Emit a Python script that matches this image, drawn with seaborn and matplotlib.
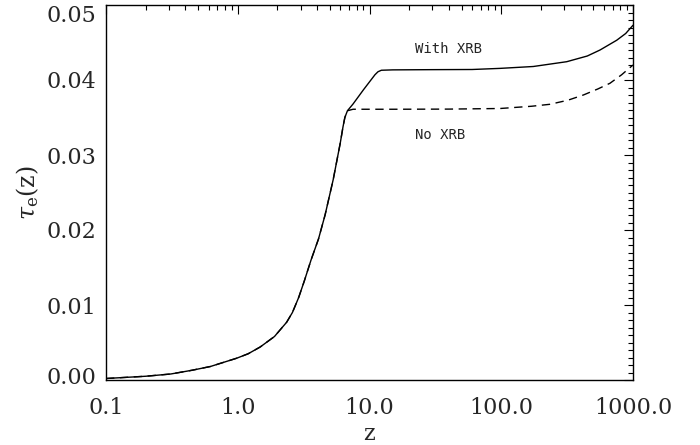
import numpy as np
import pandas as pd
import matplotlib
matplotlib.use("Agg")
import matplotlib.pyplot as plt
import matplotlib.ticker as mticker
import matplotlib.transforms as mtransforms
import seaborn as sns

# shared low-z part (both models identical before the knee)
z_common = [0.10, 0.20, 0.31, 0.45, 0.62, 0.98, 1.2, 1.48, 1.9, 2.35, 2.6, 2.9, 3.2, 3.6, 4.1,
            4.6, 5.3, 6.0, 6.3, 6.5, 6.8]
tau_common = [0.0002, 0.0005, 0.0008, 0.0013, 0.0018, 0.0029, 0.0035, 0.0044, 0.0058, 0.0077,
              0.0090, 0.0110, 0.0132, 0.0160, 0.0188, 0.0220, 0.0267, 0.0316, 0.0338, 0.0350,
              0.0359]

# high-z branches
z_with = [7.5, 9.0, 11.0, 11.6, 12.3, 15, 30, 60, 98, 175, 314, 450, 562, 752, 880, 1000]
tau_with = [0.0368, 0.0387, 0.0407, 0.0411, 0.0413, 0.04135, 0.04138, 0.0414, 0.04155, 0.0418,
            0.04244, 0.0432, 0.0440, 0.0453, 0.0462, 0.0473]
z_no = [7.5, 15, 40, 98, 170, 234, 320, 420, 540, 668, 820, 1000]
tau_no = [0.0361, 0.0361, 0.03612, 0.0362, 0.0365, 0.03676, 0.0373, 0.0380, 0.0388, 0.03956,
          0.0407, 0.0420]

x_ticks = [0.1, 1.0, 10.0, 100.0, 1000.0]
y_ticks = [0.00, 0.01, 0.02, 0.03, 0.04, 0.05]

df = pd.concat([
    pd.DataFrame({"z": z_common + z_with, "tau": tau_common + tau_with, "model": "With XRB"}),
    pd.DataFrame({"z": z_common + z_no, "tau": tau_common + tau_no, "model": "No XRB"}),
], ignore_index=True)

sns.set_style("white")
plt.rcParams["font.family"] = ["DejaVu Serif"]
plt.rcParams["mathtext.fontset"] = "dejavuserif"

fig = plt.figure(figsize=(7, 4.45), dpi=100)
ax = fig.add_axes([106 / 700, 1 - 380 / 445, 527 / 700, 375 / 445])

sns.lineplot(data=df, x="z", y="tau", hue="model", style="model",
             palette={"With XRB": "black", "No XRB": "black"},
             dashes={"With XRB": "", "No XRB": (6, 4)},
             linewidth=1.0, legend=False, ax=ax, sort=False, estimator=None)

ax.set_xscale("log")
ax.set_xlim(0.1, 1000)
ax.set_ylim(0.0, 0.05)
ax.xaxis.set_major_locator(mticker.FixedLocator(x_ticks))
ax.xaxis.set_major_formatter(mticker.FixedFormatter(["%.1f" % v for v in x_ticks]))
ax.xaxis.set_minor_locator(mticker.LogLocator(base=10, subs=np.arange(2, 10)))
ax.xaxis.set_minor_formatter(mticker.NullFormatter())
ax.yaxis.set_major_locator(mticker.FixedLocator(y_ticks))
ax.yaxis.set_major_formatter(mticker.FormatStrFormatter("%.2f"))
ax.yaxis.set_minor_locator(mticker.MultipleLocator(0.001))

ax.tick_params(which="both", direction="in", top=True, right=True, color="black", width=0.8)
ax.tick_params(which="major", length=6.5)
ax.tick_params(which="minor", length=3.5)
ax.tick_params(axis="x", which="major", pad=12, labelsize=16)
ax.tick_params(axis="y", which="major", pad=7, labelsize=16)
for s in ax.spines.values():
    s.set_color("black")
    s.set_linewidth(1.0)

# keep the end labels of the y axis inside the frame, as in the original
fig.canvas.draw()
ylabels = ax.get_yticklabels()
ylabels[-1].set_transform(ylabels[-1].get_transform() +
                          mtransforms.ScaledTranslation(0, -9 / 100, fig.dpi_scale_trans))
ylabels[0].set_transform(ylabels[0].get_transform() +
                         mtransforms.ScaledTranslation(0, 5 / 100, fig.dpi_scale_trans))

ax.set_xlabel("z", fontsize=16, labelpad=3)
ax.set_ylabel(r"$\tau_{\rm e}(\rm z)$", fontsize=17, labelpad=4)

ax.text(22, 0.0441, "With XRB", family="DejaVu Sans Mono", fontsize=10, va="center", ha="left")
ax.text(22, 0.0327, "No XRB", family="DejaVu Sans Mono", fontsize=10, va="center", ha="left")

fig.savefig("out.png", dpi=100)
